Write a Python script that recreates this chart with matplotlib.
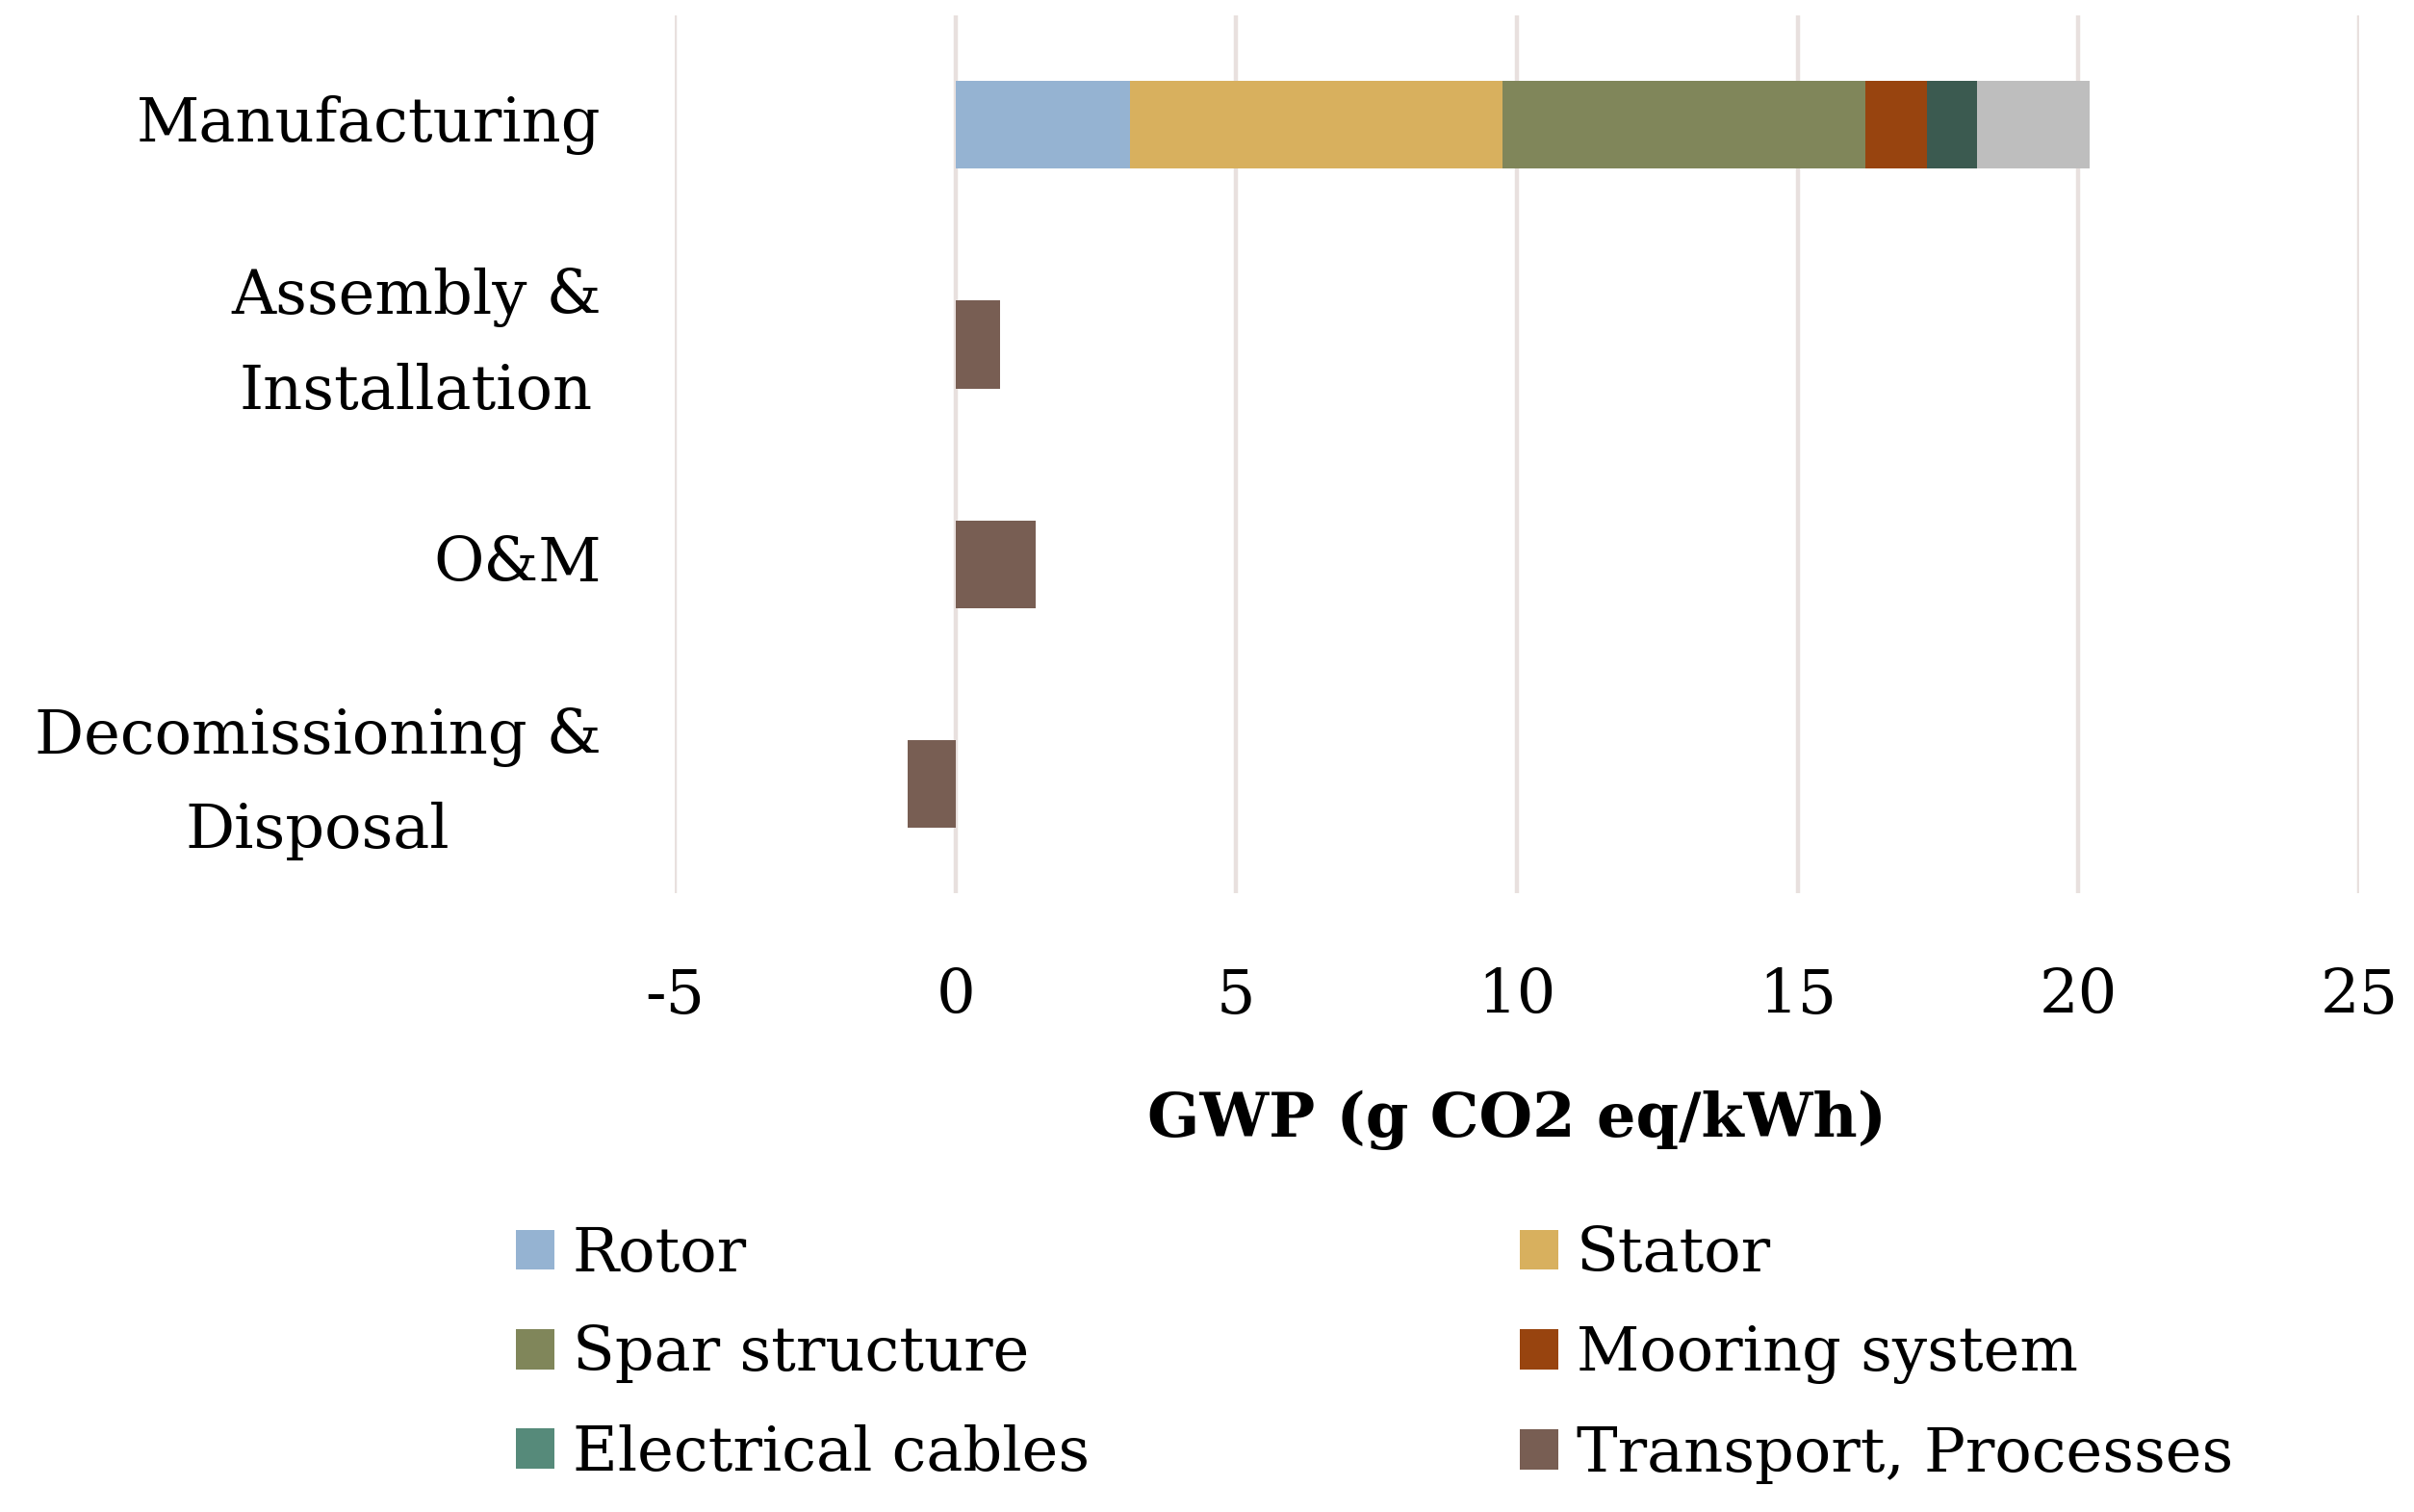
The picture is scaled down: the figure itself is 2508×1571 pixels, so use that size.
import matplotlib.pyplot as plt
import numpy as np
from matplotlib.patches import Patch

plt.rcParams.update({
    "font.family": ["DejaVu Serif"],
    "axes.unicode_minus": False,
})

## parameters
fs0 = 46
fs_leg = 46

##--------------- data ---------------##
stages = ["Manufacturing", "Assembly &\nInstallation", "O&M", "Decomissioning &\nDisposal"]

components = ["Rotor", "Stator", "Spar structure", "Mooring system",
              "Electrical cables", "Transport, Processes", "Other"]

# g CO2 eq/kWh, one list per component (stage order as above)
rotor = [3.1, 0, 0, 0]
stator = [6.65, 0, 0, 0]
spar = [6.45, 0, 0, 0]
mooring = [1.1, 0, 0, 0]
cables = [0.9, 0, 0, 0]
transport = [0, 0.8, 1.42, -0.85]
other = [2.0, 0, 0, 0]

xticks = [-5, 0, 5, 10, 15, 20, 25]

col_bar = ["#95B3D2", "#D8B05E", "#80865A", "#98440F", "#3B5A50", "#785E53", "#BEBEBE"]
col_leg = ["#95B3D2", "#D8B05E", "#80865A", "#98440F", "#568A7A", "#785E53"]

##--------------- plot ---------------##
fig = plt.figure(figsize=(25.08, 15.71), dpi=100)
ax = fig.add_axes([0.2795, 0.409, 0.6978, 0.581])

y = np.arange(len(stages))
series = [rotor, stator, spar, mooring, cables, transport, other]
left = np.zeros(len(stages))
for vals, c, lab in zip(series, col_bar, components):
    vals = np.array(vals, dtype=float)
    base = np.where(vals >= 0, left, 0)
    ax.barh(y, vals, left=base, height=0.4, color=c, label=lab, zorder=3)
    left = left + np.where(vals > 0, vals, 0)

ax.set_ylim(len(stages) - 0.5, -0.5)
ax.set_xlim(-5, 25)
ax.set_xticks(xticks)
ax.set_yticks(y)
ax.set_yticklabels(stages, multialignment="center", linespacing=1.75, va="center")
ax.tick_params(axis="x", labelsize=fs0, length=0, pad=55)
ax.tick_params(axis="y", labelsize=fs0, length=0, pad=55)
ax.grid(axis="x", color="#E8E0DE", lw=3.2, zorder=0)
for s in ax.spines.values():
    s.set_visible(False)

ax.set_xlabel("GWP (g CO2 eq/kWh)", fontsize=fs0, fontweight="bold", labelpad=48)

# legend filled row by row: Rotor/Stator, Spar/Mooring, Cables/Transport
order = [0, 2, 4, 1, 3, 5]
handles = [Patch(facecolor=col_leg[i], label=components[i]) for i in order]
fig.legend(handles=handles, ncol=2, loc="upper left", bbox_to_anchor=(0.201, 0.21),
           frameon=False, fontsize=fs_leg, handlelength=0.62, handleheight=0.62,
           handletextpad=0.3, columnspacing=7.0, labelspacing=0.66, borderpad=0)

fig.savefig("out.png", dpi=100)
